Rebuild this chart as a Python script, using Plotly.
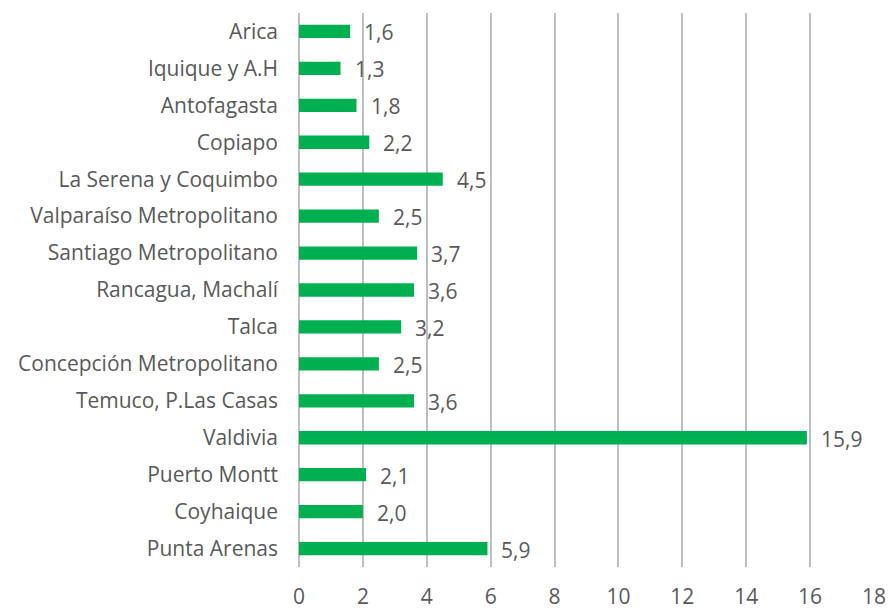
import plotly.graph_objects as go

categories = ["Arica", "Iquique y A.H", "Antofagasta", "Copiapo", "La Serena y Coquimbo",
              "Valparaíso Metropolitano", "Santiago Metropolitano", "Rancagua, Machalí",
              "Talca", "Concepción Metropolitano", "Temuco, P.Las Casas", "Valdivia",
              "Puerto Montt", "Coyhaique", "Punta Arenas"]
values = [1.6, 1.3, 1.8, 2.2, 4.5, 2.5, 3.7, 3.6, 3.2, 2.5, 3.6, 15.9, 2.1, 2.0, 5.9]
x_ticks = [0, 2, 4, 6, 8, 10, 12, 14, 16, 18]

labels = [f"{v:.1f}".replace(".", ",") for v in values]
font_family = "Open Sans, DejaVu Sans, sans-serif"
text_color = "#595959"

fig = go.Figure()
fig.add_trace(go.Bar(
    x=values, y=categories, orientation="h",
    marker=dict(color="#00B050", line=dict(width=0)),
    width=0.36, hoverinfo="skip",
))

for v, c, t in zip(values, categories, labels):
    fig.add_annotation(x=v, y=c, text=t, showarrow=False, xanchor="left",
                       xshift=12, yshift=-1,
                       font=dict(family=font_family, size=21, color=text_color))

fig.update_layout(
    width=890, height=610,
    margin=dict(l=299, r=16, t=13, b=43, autoexpand=False),
    paper_bgcolor="white", plot_bgcolor="white",
    showlegend=False,
    font=dict(family=font_family, size=21, color=text_color),
    xaxis=dict(range=[0, 18], tickvals=x_ticks, showgrid=True, automargin=False,
               gridcolor="#BFBFBF", gridwidth=1.5, zeroline=True,
               zerolinecolor="#BFBFBF", zerolinewidth=1.5,
               showline=False, ticks="", ticklabelstandoff=15,
               tickfont=dict(family=font_family, size=21, color=text_color)),
    yaxis=dict(autorange="reversed", showgrid=False, showline=False, ticks="",
               ticklabelstandoff=20, automargin=False,
               tickfont=dict(family=font_family, size=21, color=text_color)),
)

fig.write_html("out.html", config={"displayModeBar": False},
               post_script="document.body.style.margin='0';document.body.style.padding='0';")
